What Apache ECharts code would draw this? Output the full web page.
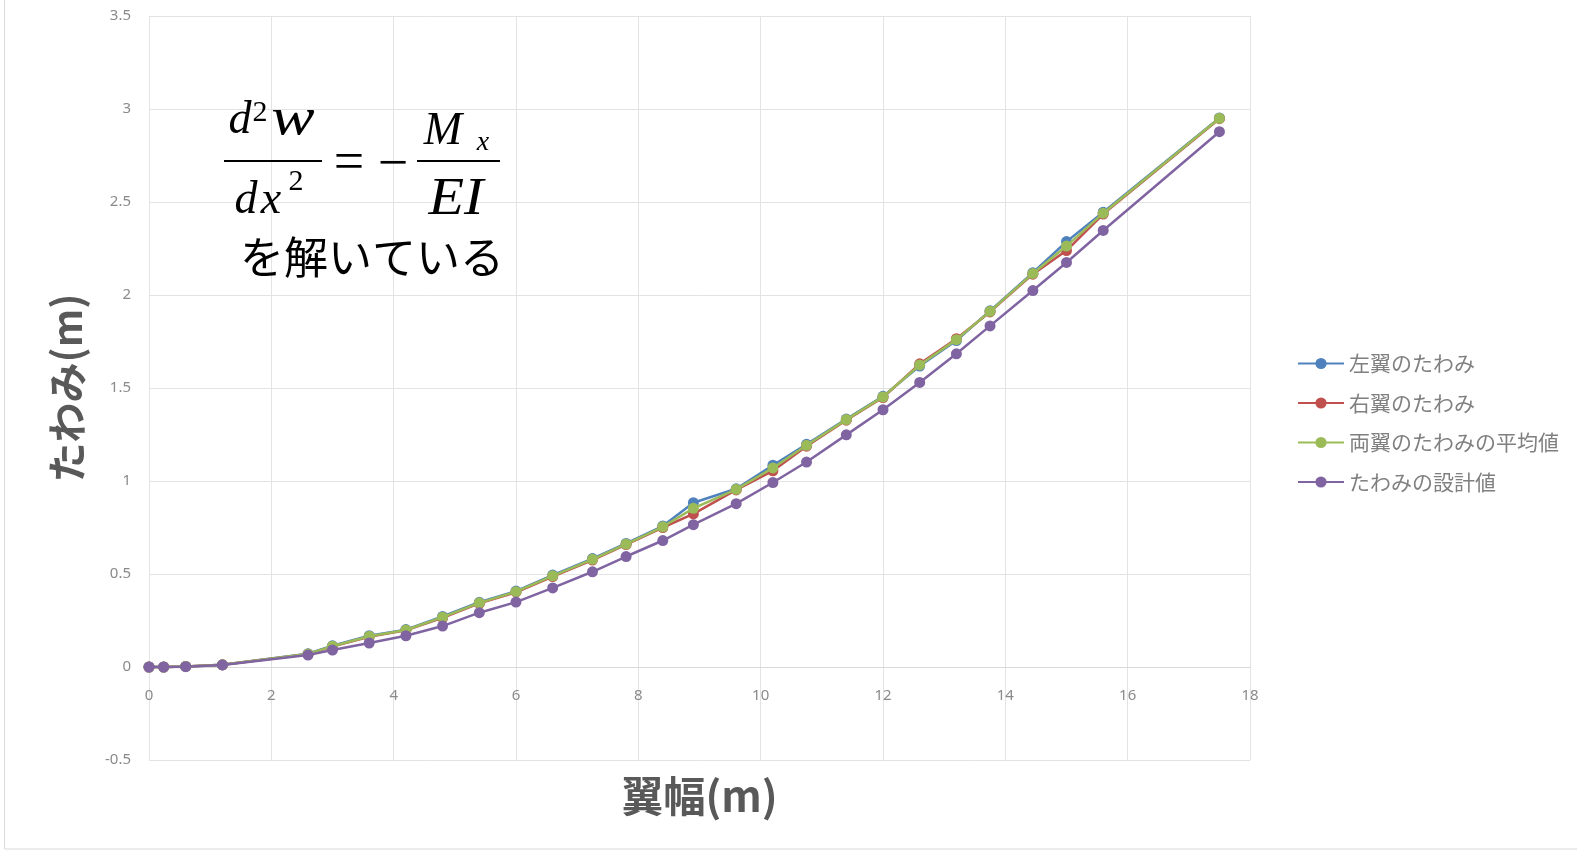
<!DOCTYPE html>
<html>
<head>
<meta charset="utf-8">
<script src="https://cdn.jsdelivr.net/npm/echarts@6/dist/echarts.min.js"></script>
<style>html,body{margin:0;padding:0;background:#fff;}#c{width:1577px;height:853px;}</style>
</head>
<body>
<div id="c"></div>
<script>
const xValues = [0, 0.24, 0.6, 1.2, 2.6, 3.0, 3.6, 4.2, 4.8, 5.4, 6.0, 6.6, 7.25, 7.8, 8.4, 8.9, 9.6, 10.2, 10.75, 11.4, 12.0, 12.6, 13.2, 13.75, 14.45, 15.0, 15.6, 17.5];
const leftWing = [0, 0, 0.003, 0.012, 0.071, 0.114, 0.168, 0.201, 0.272, 0.348, 0.408, 0.494, 0.583, 0.664, 0.758, 0.883, 0.958, 1.085, 1.197, 1.333, 1.455, 1.618, 1.755, 1.915, 2.12, 2.287, 2.445, 2.952];
const rightWing = [0, 0, 0.003, 0.012, 0.069, 0.11, 0.162, 0.197, 0.264, 0.342, 0.402, 0.486, 0.575, 0.658, 0.75, 0.823, 0.952, 1.055, 1.187, 1.327, 1.449, 1.63, 1.765, 1.909, 2.112, 2.239, 2.435, 2.948];
const average = [0, 0, 0.003, 0.012, 0.07, 0.112, 0.165, 0.199, 0.268, 0.345, 0.405, 0.49, 0.579, 0.661, 0.754, 0.853, 0.955, 1.07, 1.192, 1.33, 1.452, 1.624, 1.76, 1.912, 2.116, 2.263, 2.44, 2.95];
const design = [0, 0, 0.002, 0.011, 0.064, 0.091, 0.129, 0.168, 0.22, 0.292, 0.349, 0.425, 0.512, 0.594, 0.68, 0.765, 0.878, 0.992, 1.102, 1.248, 1.383, 1.53, 1.684, 1.834, 2.024, 2.175, 2.347, 2.878];
const seriesNames = ['左翼のたわみ', '右翼のたわみ', '両翼のたわみの平均値', 'たわみの設計値'];
const seriesColors = ['#4F81BD', '#C0504D', '#9BBB59', '#8064A2'];
const xAxisTitle = '翼幅(m)';
const yAxisTitle = 'たわみ(m)';
const noteText = 'を解いている';

const zip = ys => xValues.map((x, i) => [x, ys[i]]);
const allData = [leftWing, rightWing, average, design];

const chart = echarts.init(document.getElementById('c'));
const serif = '"Liberation Serif", "Times New Roman", serif';
const ital = size => 'italic ' + size + 'px ' + serif;
const upr = size => size + 'px ' + serif;
function t(text, x, y, font, extra) {
  return Object.assign({ type: 'text', x: x, y: y, z: 100,
    style: { text: text, font: font, fill: '#000', align: 'center', verticalAlign: 'middle' } }, extra || {});
}
chart.setOption({
  animation: false,
  backgroundColor: '#fff',
  grid: { left: 149, right: 327, top: 16, bottom: 93, containLabel: false, outerBoundsMode: 'none' },
  xAxis: {
    type: 'value', min: 0, max: 18, interval: 2,
    offset: -93,
    axisLine: { onZero: false, lineStyle: { color: '#d9d9d9', width: 1 } },
    axisTick: { show: false },
    axisLabel: { color: '#8a8a8a', fontSize: 15, margin: 21, fontFamily: 'Noto Sans' },
    splitLine: { show: true, lineStyle: { color: '#e3e3e3', width: 1 } },
    name: xAxisTitle, nameLocation: 'middle', nameGap: 108,
    nameTextStyle: { fontSize: 42, fontWeight: 'bold', color: '#595959', fontFamily: '"Noto Sans CJK JP"' }
  },
  yAxis: {
    type: 'value', min: -0.5, max: 3.5, interval: 0.5,
    axisLine: { show: false },
    axisTick: { show: false },
    axisLabel: { color: '#8a8a8a', fontSize: 15, margin: 18, fontFamily: 'Noto Sans' },
    splitLine: { show: true, lineStyle: { color: '#e3e3e3', width: 1 } },
    name: yAxisTitle, nameLocation: 'middle', nameGap: 62, nameRotate: 90,
    nameTextStyle: { fontSize: 40, fontWeight: 'bold', color: '#595959', fontFamily: '"Noto Sans CJK JP"' }
  },
  legend: {
    orient: 'vertical', left: 1292, top: 348,
    itemWidth: 46, itemHeight: 14, itemGap: 18.5,
    textStyle: { fontSize: 21, color: '#808080', fontFamily: '"Noto Sans CJK JP"', lineHeight: 18 },
    data: seriesNames
  },
  series: allData.map((d, i) => ({
    type: 'line', name: seriesNames[i], data: zip(d),
    symbol: 'circle', symbolSize: 11, showSymbol: true,
    lineStyle: { width: 2.5, color: seriesColors[i] },
    itemStyle: { color: seriesColors[i] },
    z: 2 + i
  })),
  graphic: [
    { type: 'rect', shape: { x: 4.5, y: -10, width: 1600, height: 859 }, style: { fill: 'none', stroke: '#d9d9d9', lineWidth: 1 }, z: 0, silent: true },
    t('d', 240, 121, ital(46)),
    t('2', 260, 113, upr(30)),
    t('w', 293, 120, ital(52), { scaleX: 1.25 }),
    { type: 'line', shape: { x1: 224, y1: 161, x2: 322, y2: 161 }, style: { stroke: '#000', lineWidth: 2 }, z: 100 },
    t('d', 246, 201, ital(46)),
    t('x', 271, 201, ital(46)),
    t('2', 296, 182, upr(30)),
    t('=', 349, 165, upr(54)),
    t('\u2212', 393, 166, upr(54)),
    t('M', 443, 132, ital(46)),
    t('x', 483, 143, ital(28)),
    { type: 'line', shape: { x1: 417, y1: 161, x2: 500, y2: 161 }, style: { stroke: '#000', lineWidth: 2 }, z: 100 },
    t('EI', 456, 200, ital(52), { scaleX: 1.12 }),
    t(noteText, 372, 257, '44px "Noto Sans CJK JP"')
  ]
});
</script>
</body>
</html>
